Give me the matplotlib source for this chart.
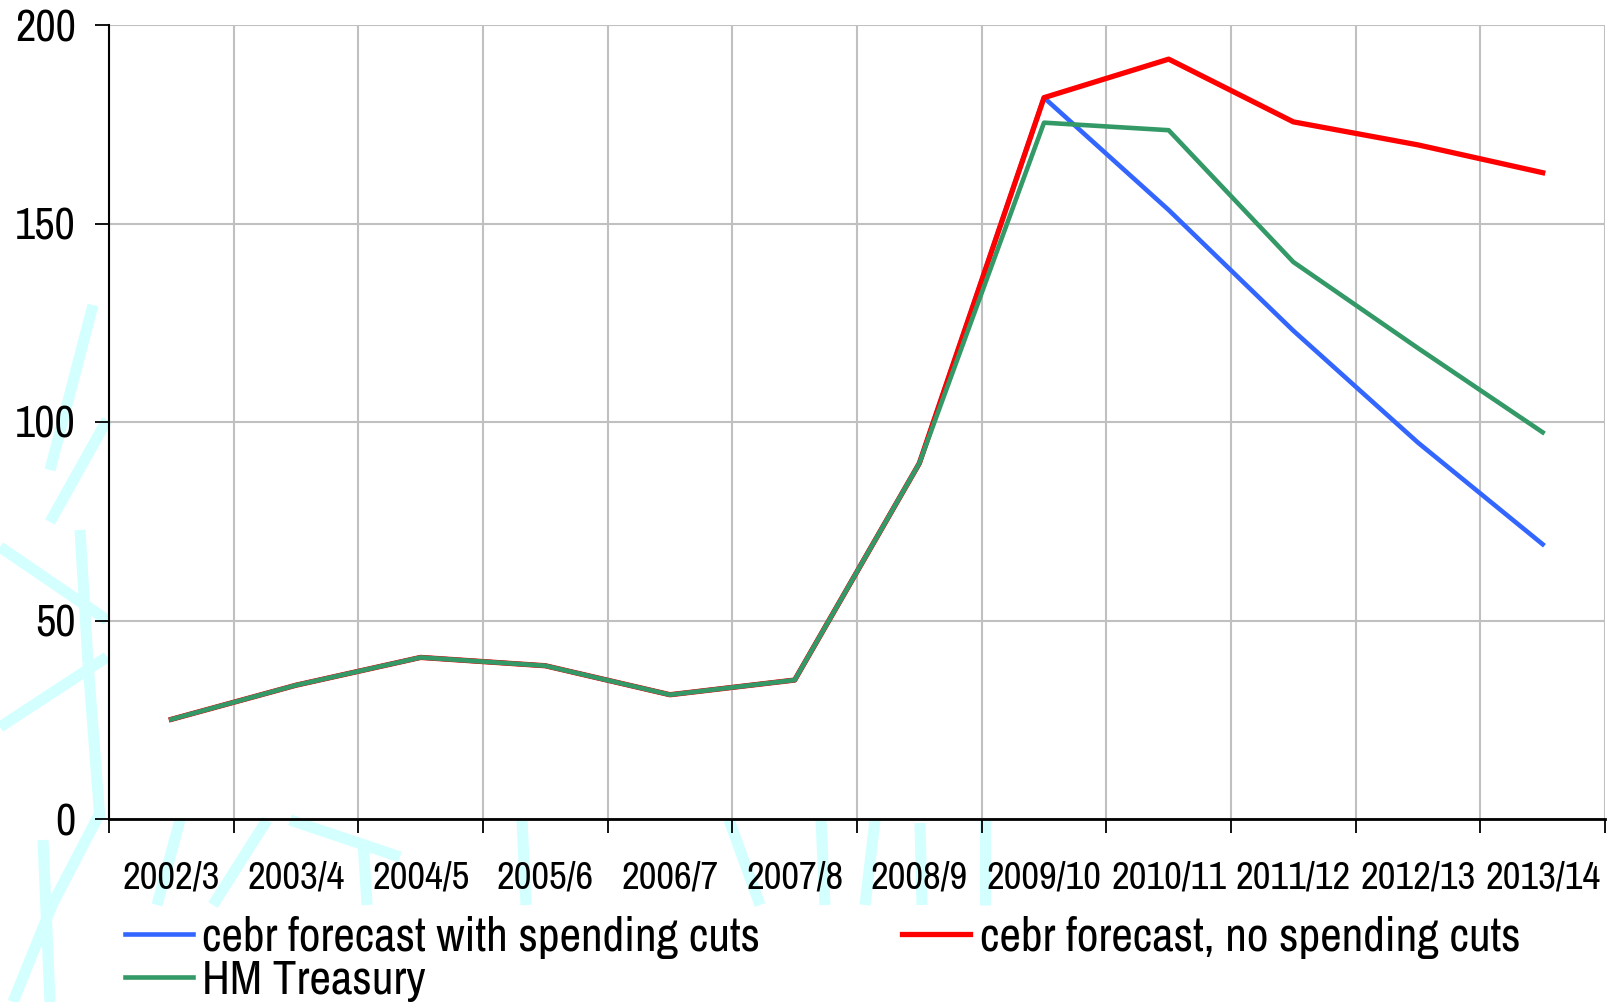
import numpy as np
import matplotlib
matplotlib.use('Agg')
import matplotlib.pyplot as plt
from matplotlib.lines import Line2D

plt.rcParams['font.family'] = ['Archivo Narrow', 'DejaVu Sans']

years = ['2002/3', '2003/4', '2004/5', '2005/6', '2006/7', '2007/8',
         '2008/9', '2009/10', '2010/11', '2011/12', '2012/13', '2013/14']
hist = [25.1, 33.7, 40.7, 38.6, 31.3, 35.0, 89.6]
cuts = hist + [181.7, 153.4, 123.0, 94.8, 69.2]
no_cuts = hist + [181.7, 191.4, 175.6, 169.8, 162.8]
treasury = hist + [175.4, 173.5, 140.3, 118.6, 97.4]

W, H = 1611, 1002
fig = plt.figure(figsize=(W / 100, H / 100), dpi=100)

# faint cyan watermark behind the plot (pixel coords, y down)
marks = [((93, 305), (50, 470)), ((107, 420), (50, 522)),
         ((80, 530), (88, 663)), ((88, 663), (100, 820)),
         ((0, 547), (107, 620)), ((0, 727), (107, 657)),
         ((43, 840), (50, 1002)), ((100, 813), (53, 903)), ((53, 903), (13, 1002)),
         ((180, 820), (157, 905)), ((267, 820), (213, 905)), ((290, 820), (400, 857)),
         ((363, 840), (367, 905)), ((522, 820), (526, 905)), ((729, 820), (760, 905)),
         ((821, 820), (825, 905)), ((875, 820), (865, 905)), ((920, 823), (922, 905)),
         ((985, 820), (985, 905))]
for (x0, y0), (x1, y1) in marks:
    fig.add_artist(Line2D([x0 / W, x1 / W], [1 - y0 / H, 1 - y1 / H],
                          color='#d4ffff', lw=8, solid_capstyle='butt', zorder=-5))

ax = fig.add_axes([109 / W, 1 - 819 / H, (1605 - 109) / W, (819 - 25) / H])
ax.set_facecolor('none')
x = np.arange(len(years))

l1, = ax.plot(x, cuts, color='#3366ff', lw=3.3, label='cebr forecast with spending cuts', zorder=3)
l2, = ax.plot(x, no_cuts, color='#ff0000', lw=3.8, label='cebr forecast, no spending cuts', zorder=3)
l3, = ax.plot(x, treasury, color='#339966', lw=3.3, label='HM Treasury', zorder=3)

ax.set_xlim(-0.5, len(years) - 0.5)
ax.set_ylim(0, 200)
ax.set_yticks([0, 50, 100, 150, 200])
ax.set_xticks(x)
ax.set_xticklabels(years)
ax.set_xticks(np.arange(len(years) + 1) - 0.5, minor=True)

ax.tick_params(axis='x', which='major', length=0, pad=30, labelsize=28)
ax.tick_params(axis='x', which='minor', length=10, width=1.3, direction='out')
ax.tick_params(axis='y', length=10, width=1.3, pad=14, labelsize=32)

ax.grid(True, axis='y', color='#c0c0c0', lw=1.5, zorder=0)
ax.grid(True, axis='x', which='minor', color='#c0c0c0', lw=1.5, zorder=0)
for s in ['top', 'right']:
    ax.spines[s].set_visible(False)
ax.spines['left'].set_linewidth(1.5)
ax.spines['bottom'].set_linewidth(2.0)

fig.legend([l1, l3, l2], [l1.get_label(), l3.get_label(), l2.get_label()],
           ncol=2, loc='upper left', bbox_to_anchor=(125 / W, 1 - 916 / H),
           frameon=False, fontsize=34, borderpad=0, borderaxespad=0,
           handlelength=1.44, handletextpad=0.2, labelspacing=0.0,
           columnspacing=3.0)

fig.savefig('out.png', dpi=100)
